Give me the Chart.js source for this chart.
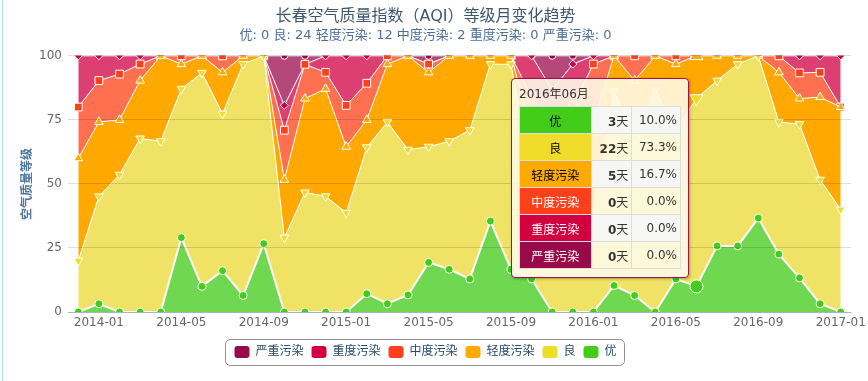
<!DOCTYPE html>
<html>
<head>
<meta charset="utf-8">
<title>长春空气质量指数（AQI）等级月变化趋势</title>
<script src="https://cdn.jsdelivr.net/npm/chart.js@4.4.1/dist/chart.umd.min.js"></script>
<style>
  html, body { margin: 0; padding: 0; background: #fff; }
  #wrap { position: relative; width: 868px; height: 381px; overflow: hidden; }
  #edge { position: absolute; left: 2px; top: 0; width: 1px; height: 381px; background: #b4e1ee; }
  #aqiChart { position: absolute; left: 0; top: 0; }
  .tip {
    position: absolute; box-sizing: border-box; width: 178px;
    padding: 2px 7px 8px 7px;
    background: rgba(255, 251, 234, 0.88);
    border: 1px solid #a0104f; border-radius: 4px;
    box-shadow: 1px 1px 3px rgba(0, 0, 0, 0.3);
    font-family: "DejaVu Sans", "Noto Sans CJK SC", sans-serif;
    font-size: 12px; color: #333;
  }
  .tip .hd { height: 25px; line-height: 26px; }
  .tip table { border-collapse: collapse; }
  .tip td { border: 1px solid #ddd; height: 26px; padding: 0 3px; white-space: nowrap; }
  .tip td.nm { width: 66px; text-align: center; }
  .tip td.dy { width: 34px; text-align: right; }
  .tip td.pc { width: 42px; text-align: right; }
  .tip tr.odd td.dy, .tip tr.odd td.pc { background: rgba(245, 245, 245, 0.95); }
  .tip b { font-weight: bold; }
</style>
</head>
<body>
<div id="wrap">
  <div id="edge"></div>
  <canvas id="aqiChart" width="868" height="381"></canvas>
  <div id="tip" class="tip"></div>
</div>
<script>
// months 2013-12 .. 2017-01
var months = ['2013-12',
  '2014-01','2014-02','2014-03','2014-04','2014-05','2014-06','2014-07','2014-08','2014-09','2014-10','2014-11','2014-12',
  '2015-01','2015-02','2015-03','2015-04','2015-05','2015-06','2015-07','2015-08','2015-09','2015-10','2015-11','2015-12',
  '2016-01','2016-02','2016-03','2016-04','2016-05','2016-06','2016-07','2016-08','2016-09','2016-10','2016-11','2016-12',
  '2017-01'];

// days per level in each month
var excellentDays = [0, 1,0,0,0,9,3,5,2,8,0,0,0, 0,2,1,2,6,5,4,11,5,4,0,0, 0,3,2,0,4,3,8,8,11,7,4,1, 0];
var goodDays      = [6, 13,15,21,20,18,25,19,28,22,9,14,14, 12,16,22,17,14,15,18,19,24,12,9,8, 12,22,19,26,18,22,20,22,19,16,18,15, 12];
var lightDays     = [12, 9,6,7,10,3,2,5,1,0,7,11,13, 8,3,7,11,9,10,9,1,1,6,9,10, 11,4,7,4,8,5,3,1,0,6,3,10, 12];
var moderateDays  = [6, 5,5,2,0,1,0,2,0,0,6,4,2, 5,4,1,0,1,0,0,0,0,4,4,7, 7,0,3,0,1,0,0,0,0,2,3,3, 0];
var heavyDays     = [6, 3,2,1,0,0,0,0,0,0,3,0,2, 6,3,0,0,0,0,0,0,0,5,4,5, 1,0,0,0,0,0,0,0,0,0,2,2, 6];
var severeDays    = [0, 0,0,0,0,0,0,0,0,0,6,1,0, 0,0,0,0,1,0,0,0,0,0,4,1, 0,0,0,0,0,0,0,0,0,0,0,0, 0];

var levelNames = ['优', '良', '轻度污染', '中度污染', '重度污染', '严重污染'];
var yTicks = [0, 25, 50, 75, 100];
var hoverIndex = 30;

var levelColors = ['#44cc1a', '#f0dc2a', '#ffaa00', '#ff401a', '#d20040', '#990a4a'];
var areaColors  = ['#70d850', '#f0e264', '#ffa800', '#ff7050', '#dc4072', '#b44878'];
var textColors  = ['#000', '#000', '#000', '#fff', '#fff', '#fff'];
var markerStyles = ['circle', 'triangle', 'triangle', 'rect', 'rectRot', 'circle'];
var markerTurn   = [0, 180, 0, 0, 0, 0];
var markerSize   = [4, 5, 5, 5.5, 4, 3.5];

var allDays = [excellentDays, goodDays, lightDays, moderateDays, heavyDays, severeDays];
var totals = months.map(function (m, i) {
    return allDays.reduce(function (s, arr) { return s + arr[i]; }, 0);
});
function toPercent(arr) {
    return arr.map(function (d, i) { return d / totals[i] * 100; });
}

Chart.defaults.font.family = '"DejaVu Sans", "Noto Sans CJK SC", sans-serif';

var datasets = levelNames.map(function (name, k) {
    return {
        label: name,
        data: toPercent(allDays[k]),
        fill: k === 0 ? 'origin' : '-1',
        backgroundColor: areaColors[k],
        borderColor: '#ffffff',
        borderWidth: k === 0 ? 2 : 1,
        tension: 0,
        pointStyle: markerStyles[k],
        pointRotation: markerTurn[k],
        pointBackgroundColor: levelColors[k],
        pointBorderColor: '#ffffff',
        pointBorderWidth: 1,
        pointRadius: function (ctx) {
            return ctx.dataIndex === hoverIndex ? markerSize[k] + 2.5 : markerSize[k];
        }
    };
});

// rounded frame round the legend items
var legendFrame = {
    id: 'legendFrame',
    afterDraw: function (chart) {
        var boxes = chart.legend.legendHitBoxes;
        if (!boxes || !boxes.length) return;
        var left = Math.min.apply(null, boxes.map(function (b) { return b.left; })) - 9;
        var right = Math.max.apply(null, boxes.map(function (b) { return b.left + b.width; })) + 8;
        var top = boxes[0].top - 7;
        var bottom = boxes[0].top + boxes[0].height + 7;
        var ctx = chart.ctx;
        ctx.save();
        ctx.strokeStyle = '#909090';
        ctx.lineWidth = 1;
        ctx.beginPath();
        ctx.roundRect(Math.round(left) + 0.5, Math.round(top) + 0.5, Math.round(right - left), Math.round(bottom - top), 5);
        ctx.stroke();
        ctx.restore();
    }
};

var ctx = document.getElementById('aqiChart').getContext('2d');
var aqiChart = new Chart(ctx, {
    type: 'line',
    data: { labels: months, datasets: datasets },
    options: {
        responsive: false,
        animation: false,
        events: [],
        layout: { padding: { left: 0, right: 17, top: 0, bottom: 13 } },
        plugins: {
            title: {
                display: true,
                text: '长春空气质量指数（AQI）等级月变化趋势',
                color: '#3e576f',
                font: { size: 16, weight: 'normal' },
                padding: { top: 7, bottom: 0 }
            },
            subtitle: {
                display: true,
                text: '优: 0 良: 24 轻度污染: 12 中度污染: 2 重度污染: 0 严重污染: 0',
                color: '#4d6f9a',
                font: { size: 13, weight: 'normal' },
                padding: { top: 2, bottom: 12 }
            },
            legend: {
                position: 'bottom',
                reverse: true,
                labels: {
                    boxWidth: 15,
                    boxHeight: 12,
                    padding: 8,
                    color: '#274b6d',
                    font: { size: 12 },
                    useBorderRadius: true,
                    borderRadius: 3,
                    generateLabels: function (chart) {
                        return chart.data.datasets.map(function (ds, i) {
                            return {
                                text: ds.label,
                                fillStyle: levelColors[i],
                                strokeStyle: levelColors[i],
                                lineWidth: 0,
                                fontColor: '#274b6d',
                                hidden: false,
                                datasetIndex: i,
                                borderRadius: 3
                            };
                        });
                    }
                }
            },
            tooltip: { enabled: false }
        },
        scales: {
            x: {
                offset: true,
                grid: { display: false, drawTicks: false },
                border: { display: true, color: '#c0d0e0' },
                ticks: {
                    autoSkip: false,
                    maxRotation: 0,
                    minRotation: 0,
                    padding: 4,
                    color: '#666',
                    font: { size: 12 },
                    callback: function (value, index) {
                        return index % 4 === 1 ? months[index] : '';
                    }
                },
                afterFit: function (scale) {
                    scale.height = 26;
                    scale.paddingLeft = 0;
                    scale.paddingRight = 0;
                }
            },
            y: {
                stacked: true,
                min: 0,
                max: 100,
                border: { display: false },
                grid: { color: 'rgba(0,0,0,0.13)', drawTicks: false, z: 1 },
                ticks: { padding: 6, color: '#666', font: { size: 12 } },
                afterBuildTicks: function (scale) {
                    scale.ticks = yTicks.map(function (v) { return { value: v }; });
                },
                afterFit: function (scale) { scale.width = 68; },
                title: {
                    display: true,
                    text: '空气质量等级',
                    color: '#4d759e',
                    font: { size: 12, weight: 'bold' },
                    padding: { top: 21, bottom: 0 }
                }
            }
        }
    },
    plugins: [legendFrame]
});

// static tooltip for the highlighted month
function showTip(index) {
    var tip = document.getElementById('tip');
    var parts = months[index].split('-');
    var html = '<div class="hd">' + parts[0] + '年' + parts[1] + '月</div><table>';
    levelNames.forEach(function (name, k) {
        var d = allDays[k][index];
        var pct = (d / totals[index] * 100).toFixed(1) + '%';
        html += '<tr class="' + (k % 2 === 0 ? 'odd' : 'even') + '">' +
            '<td class="nm" style="background:' + levelColors[k] + ';color:' + textColors[k] + '">' + name + '</td>' +
            '<td class="dy"><b>' + d + '</b>天</td>' +
            '<td class="pc">' + pct + '</td></tr>';
    });
    html += '</table>';
    tip.innerHTML = html;
    var px = aqiChart.scales.x.getPixelForValue(index);
    tip.style.left = Math.round(px - 7 - tip.offsetWidth) + 'px';
    tip.style.top = Math.round(aqiChart.chartArea.top + 22) + 'px';
}
showTip(hoverIndex);
</script>
</body>
</html>
